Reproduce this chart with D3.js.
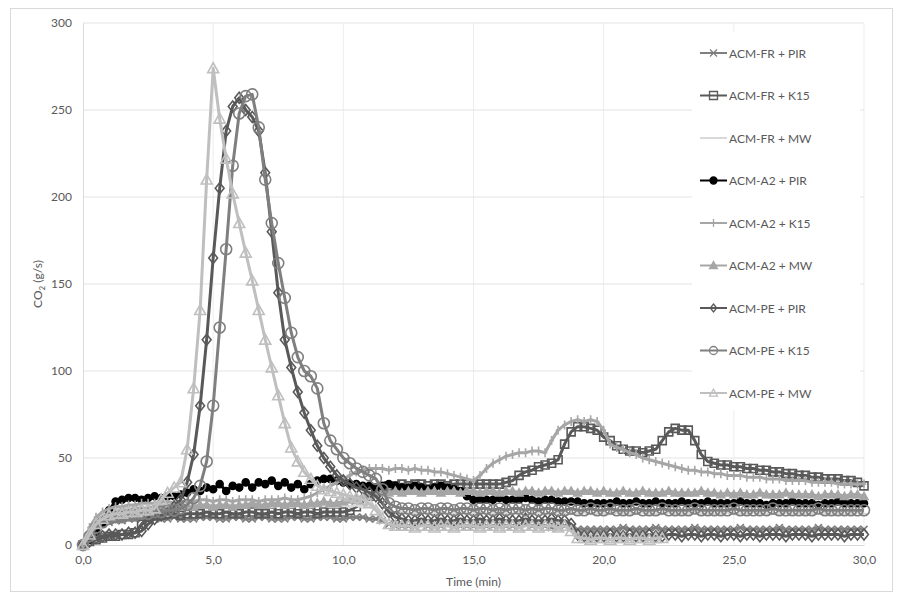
<!DOCTYPE html>
<html>
<head>
<meta charset="utf-8">
<script src="https://cdn.jsdelivr.net/npm/d3@7"></script>
<style>
  body { margin: 0; background: #fff; }
  svg { display: block; }
  text { font-family: Lato, "Noto Sans", "DejaVu Sans", sans-serif; fill: #595959; }
</style>
</head>
<body>
<svg id="chart" width="899" height="597"></svg>
<script>
// Sampling interval of the gas analyser record (minutes)
const timeStepMin = 0.25;
const xTickValues = [0, 5, 10, 15, 20, 25, 30];
const yTickValues = [0, 50, 100, 150, 200, 250, 300];

const seriesNames = [
  "ACM-FR + PIR", "ACM-FR + K15", "ACM-FR + MW",
  "ACM-A2 + PIR", "ACM-A2 + K15", "ACM-A2 + MW",
  "ACM-PE + PIR", "ACM-PE + K15", "ACM-PE + MW"
];

// CO2 production rate (g/s), one value per sample, 0 to 30 min
const frPir = [
  0, 4, 9, 12, 13, 14, 14, 15, 15, 15, 14, 15, 15, 15, 16, 15, 15, 15, 16, 16,
  16, 15, 15, 16, 16, 15, 15, 16, 16, 15, 15, 15, 16, 16, 15, 15, 16, 16, 16, 15,
  15, 16, 16, 16, 15, 15, 14, 12, 11, 11, 11, 11, 12, 11, 11, 11, 12, 11, 11, 11,
  11, 12, 11, 11, 12, 11, 11, 11, 12, 11, 11, 11, 10, 10, 11, 10, 9, 9, 9, 9,
  9, 9, 9, 10, 9, 9, 9, 9, 10, 9, 9, 9, 9, 9, 10, 9, 9, 9, 9, 9,
  9, 10, 9, 9, 9, 9, 9, 10, 9, 9, 9, 9, 9, 10, 9, 9, 9, 9, 9, 9,
  9
];
const frK15 = [
  0, 2, 3, 4, 5, 5, 6, 6, 7, 12, 16, 17, 17, 18, 18, 17, 18, 18, 18, 19,
  18, 18, 19, 18, 18, 19, 19, 18, 18, 19, 18, 19, 19, 18, 19, 19, 18, 19, 19, 19,
  19, 20, 22, 25, 28, 32, 33, 34, 34, 35, 34, 35, 35, 34, 35, 35, 34, 35, 35, 35,
  35, 35, 35, 35, 35, 36, 37, 40, 42, 43, 45, 46, 47, 49, 58, 65, 68, 68, 67, 66,
  62, 60, 57, 55, 54, 54, 53, 54, 55, 60, 65, 67, 66, 66, 60, 52, 48, 47, 46, 46,
  45, 45, 44, 44, 43, 43, 42, 42, 41, 41, 40, 40, 39, 39, 38, 38, 38, 37, 37, 36,
  34
];
const frMw = [
  0, 8, 14, 18, 20, 21, 21, 22, 22, 22, 22, 22, 23, 23, 22, 23, 23, 23, 22, 23,
  23, 22, 23, 23, 22, 22, 23, 23, 22, 22, 23, 22, 22, 23, 22, 22, 23, 23, 22, 22,
  23, 22, 23, 22, 22, 21, 19, 18, 18, 19, 18, 18, 19, 18, 18, 19, 18, 18, 19, 18,
  18, 19, 18, 18, 19, 18, 18, 19, 18, 18, 19, 18, 18, 19, 18, 18, 18, 19, 18, 18,
  18, 18, 19, 18, 18, 18, 19, 18, 18, 18, 19, 18, 18, 18, 19, 18, 18, 18, 18, 19,
  18, 18, 18, 19, 18, 18, 18, 18, 19, 18, 18, 18, 18, 19, 18, 18, 18, 18, 18, 19,
  18
];
const a2Pir = [
  0, 3, 8, 13, 20, 25, 26, 27, 27, 26, 27, 28, 27, 28, 28, 29, 30, 32, 31, 33,
  32, 35, 31, 34, 33, 36, 33, 36, 35, 37, 34, 36, 33, 35, 32, 35, 37, 38, 38, 37,
  36, 35, 35, 34, 34, 33, 34, 35, 34, 33, 33, 34, 33, 32, 33, 34, 33, 32, 31, 28,
  26, 26, 26, 26, 27, 26, 26, 26, 27, 26, 25, 26, 26, 25, 25, 25, 25, 24, 24, 24,
  24, 24, 25, 24, 24, 25, 24, 24, 25, 24, 24, 24, 25, 24, 24, 24, 25, 24, 24, 24,
  24, 25, 24, 24, 24, 23, 24, 24, 24, 25, 24, 24, 24, 23, 24, 24, 25, 24, 24, 24,
  24
];
const a2K15 = [
  0, 10, 16, 19, 21, 22, 22, 23, 23, 24, 24, 24, 25, 25, 24, 25, 25, 25, 26, 26,
  25, 26, 26, 25, 26, 26, 26, 25, 26, 26, 26, 27, 26, 26, 27, 28, 30, 32, 34, 36,
  38, 40, 42, 43, 44, 44, 44, 43, 44, 44, 43, 44, 43, 43, 42, 42, 41, 40, 39, 38,
  37, 40, 44, 47, 49, 51, 52, 53, 53, 54, 54, 53, 60, 66, 69, 71, 72, 71, 72, 71,
  66, 58, 56, 55, 53, 52, 50, 49, 48, 47, 46, 45, 44, 43, 43, 42, 42, 41, 41, 40,
  40, 40, 39, 39, 39, 38, 38, 38, 37, 37, 37, 37, 36, 36, 36, 36, 35, 35, 35, 35,
  35
];
const a2Mw = [
  0, 6, 12, 16, 18, 19, 20, 20, 21, 21, 21, 22, 22, 21, 22, 22, 22, 22, 23, 23,
  22, 23, 23, 22, 23, 23, 24, 23, 23, 24, 24, 23, 24, 24, 23, 24, 24, 25, 24, 24,
  25, 26, 27, 28, 28, 29, 30, 30, 31, 30, 31, 31, 30, 31, 31, 30, 31, 31, 30, 31,
  31, 30, 31, 31, 30, 31, 31, 30, 31, 31, 30, 31, 31, 30, 31, 31, 30, 31, 31, 30,
  31, 30, 30, 31, 30, 30, 31, 30, 30, 30, 31, 30, 30, 30, 30, 31, 30, 30, 29, 30,
  29, 30, 29, 29, 30, 29, 29, 29, 30, 29, 29, 29, 29, 28, 29, 29, 29, 28, 29, 29,
  28
];
const pePir = [
  0, 2, 4, 5, 6, 6, 6, 7, 7, 8, 12, 15, 17, 18, 22, 26, 36, 52, 80, 118,
  165, 205, 238, 252, 257, 250, 246, 238, 214, 180, 145, 118, 102, 88, 76, 66, 57, 50, 45, 40,
  37, 35, 33, 32, 30, 28, 24, 19, 16, 15, 14, 14, 15, 14, 14, 15, 14, 14, 15, 14,
  14, 15, 14, 14, 15, 14, 14, 14, 15, 14, 14, 14, 15, 14, 14, 12, 6, 5, 5, 5,
  5, 6, 5, 5, 6, 5, 5, 6, 5, 5, 6, 6, 5, 6, 6, 5, 6, 6, 5, 6,
  6, 5, 6, 6, 5, 6, 6, 6, 5, 6, 6, 6, 5, 6, 6, 6, 6, 5, 6, 6,
  6
];
const peK15 = [
  0, 5, 10, 13, 15, 16, 16, 17, 17, 18, 18, 19, 19, 20, 20, 21, 23, 27, 34, 48,
  80, 125, 170, 218, 248, 258, 259, 240, 210, 185, 162, 142, 122, 108, 100, 97, 90, 70, 60, 55,
  50, 47, 44, 42, 40, 38, 32, 24, 22, 21, 21, 20, 21, 21, 20, 21, 21, 20, 21, 21,
  20, 21, 21, 20, 21, 20, 21, 21, 20, 21, 20, 21, 21, 20, 20, 21, 20, 20, 21, 20,
  20, 21, 20, 20, 20, 21, 20, 20, 20, 21, 20, 20, 20, 20, 21, 20, 20, 20, 20, 20,
  21, 20, 20, 20, 20, 20, 21, 20, 20, 20, 20, 20, 20, 21, 20, 20, 20, 20, 20, 20,
  20
];
const peMw = [
  0, 6, 12, 15, 17, 18, 18, 19, 19, 20, 20, 21, 26, 30, 33, 36, 55, 90, 135, 210,
  274, 245, 222, 202, 185, 168, 152, 135, 118, 102, 86, 70, 56, 48, 42, 38, 34, 32, 31, 30,
  29, 28, 27, 26, 24, 20, 15, 12, 11, 11, 11, 10, 11, 11, 10, 11, 11, 10, 11, 11,
  11, 10, 11, 11, 10, 11, 11, 10, 11, 11, 10, 11, 11, 10, 11, 8, 4, 4, 3, 4,
  4, 3, 4, 4, 3, 4, 4, 3, 4, 4, null, null, null, null, null, null, null, null, null, null,
  null, null, null, null, null, null, null, null, null, null, null, null, null, null, null, null, null, null, null, null,
  null
];

const seriesValues = [frPir, frK15, frMw, a2Pir, a2K15, a2Mw, pePir, peK15, peMw];

// Line colour, marker shape and marker paint for each series
const seriesStyle = [
  { color: "#7f7f7f", marker: "x",        size: 7,  fill: "none" },
  { color: "#595959", marker: "square",   size: 8,  fill: "none" },
  { color: "#d9d9d9", marker: "dash",     size: 6,  fill: "none" },
  { color: "#000000", marker: "circle",   size: 7,  fill: "#000000" },
  { color: "#a6a6a6", marker: "plus",     size: 9,  fill: "none" },
  { color: "#a6a6a6", marker: "triangle", size: 8,  fill: "#a6a6a6" },
  { color: "#595959", marker: "diamond",  size: 11, fill: "none" },
  { color: "#7f7f7f", marker: "circle",   size: 11, fill: "none" },
  { color: "#bfbfbf", marker: "triangle", size: 11, fill: "none" }
];

const plot = { left: 83, right: 864, top: 23, bottom: 545 };

const svg = d3.select("#chart");
const sampleTimes = seriesValues[0].map((_, i) => i * timeStepMin);

const x = d3.scaleLinear().domain([0, 30]).range([plot.left, plot.right]);
const y = d3.scaleLinear().domain([0, 300]).range([plot.bottom, plot.top]);

const commaFmt = d => d3.format(".1f")(d).replace(".", ",");

// Chart frame
svg.append("rect")
  .attr("x", 10.5).attr("y", 8.5)
  .attr("width", 882).attr("height", 583)
  .attr("fill", "#fff").attr("stroke", "#d9d9d9");

// Gridlines
svg.append("g")
  .selectAll("line").data(xTickValues.filter(d => d > 0)).join("line")
  .attr("x1", d => x(d)).attr("x2", d => x(d))
  .attr("y1", plot.top).attr("y2", plot.bottom)
  .attr("stroke", "#ededed").attr("stroke-width", 1);
svg.append("g")
  .selectAll("line").data(yTickValues.filter(d => d > 0)).join("line")
  .attr("x1", plot.left).attr("x2", plot.right)
  .attr("y1", d => y(d)).attr("y2", d => y(d))
  .attr("stroke", "#e3e3e3").attr("stroke-width", 1);

// Axes (lines only, no tick marks)
const xAxis = svg.append("g")
  .attr("transform", `translate(0,${plot.bottom})`)
  .call(d3.axisBottom(x).tickValues(xTickValues).tickFormat(commaFmt).tickSize(0).tickPadding(10));
const yAxis = svg.append("g")
  .attr("transform", `translate(${plot.left},0)`)
  .call(d3.axisLeft(y).tickValues(yTickValues).tickSize(0).tickPadding(11));
[xAxis, yAxis].forEach(g => {
  g.select(".domain").attr("stroke", "#d9d9d9");
  g.selectAll("text").attr("font-size", 12).attr("fill", "#595959")
    .attr("font-family", "Lato, 'Noto Sans', sans-serif");
});

// Axis titles
svg.append("text")
  .attr("x", (plot.left + plot.right) / 2).attr("y", 586)
  .attr("text-anchor", "middle").attr("font-size", 12)
  .text("Time (min)");
const yTitle = svg.append("text")
  .attr("transform", "translate(42,284) rotate(-90)")
  .attr("text-anchor", "middle").attr("font-size", 12);
yTitle.append("tspan").text("CO");
yTitle.append("tspan").attr("font-size", 8).attr("dy", 3).text("2");
yTitle.append("tspan").attr("dy", -3).text(" (g/s)");

// Marker path for a given shape centred at 0,0
function markerPath(type, s) {
  const h = s / 2;
  switch (type) {
    case "circle":
      return `M${h},0A${h},${h} 0 1,1 ${-h},0A${h},${h} 0 1,1 ${h},0Z`;
    case "square":
      return `M${-h},${-h}H${h}V${h}H${-h}Z`;
    case "diamond":
      return `M0,${-h}L${h * 0.8},0L0,${h}L${-h * 0.8},0Z`;
    case "triangle":
      return `M0,${-h}L${h},${h * 0.8}L${-h},${h * 0.8}Z`;
    case "x":
      return `M${-h},${-h}L${h},${h}M${-h},${h}L${h},${-h}`;
    case "plus":
      return `M0,${-h}V${h}M${-h * 0.5},0H${h * 0.5}`;
    case "dash":
      return `M${-h},0H${h}`;
  }
}

const line = d3.line()
  .defined(d => d.v !== null)
  .x(d => x(d.t)).y(d => y(d.v));

const seriesLayer = svg.append("g");
seriesValues.forEach((vals, si) => {
  const st = seriesStyle[si];
  const pts = vals.map((v, i) => ({ t: sampleTimes[i], v }));
  const g = seriesLayer.append("g");
  g.append("path")
    .datum(pts)
    .attr("d", line)
    .attr("fill", "none")
    .attr("stroke", st.color)
    .attr("stroke-width", 3)
    .attr("stroke-linejoin", "round");
  g.selectAll("path.mk")
    .data(pts.filter(d => d.v !== null))
    .join("path")
    .attr("class", "mk")
    .attr("transform", d => `translate(${x(d.t)},${y(d.v)})`)
    .attr("d", markerPath(st.marker, st.size))
    .attr("fill", st.fill)
    .attr("stroke", st.color)
    .attr("stroke-width", 1.6);
});

// Legend
const legend = svg.append("g");
legend.append("rect")
  .attr("x", 692).attr("y", 32).attr("width", 168).attr("height", 378)
  .attr("fill", "#fff");
seriesNames.forEach((name, i) => {
  const st = seriesStyle[i];
  const ly = 53 + i * 42.5;
  const item = legend.append("g").attr("transform", `translate(700,${ly})`);
  item.append("line")
    .attr("x1", 0).attr("x2", 27).attr("y1", 0).attr("y2", 0)
    .attr("stroke", st.color).attr("stroke-width", 2);
  item.append("path")
    .attr("transform", "translate(13.5,0)")
    .attr("d", markerPath(st.marker, Math.min(st.size, 8)))
    .attr("fill", st.fill).attr("stroke", st.color).attr("stroke-width", 1.3);
  item.append("text")
    .attr("x", 29).attr("y", 4.5)
    .attr("font-size", 12)
    .text(name);
});
</script>
</body>
</html>
